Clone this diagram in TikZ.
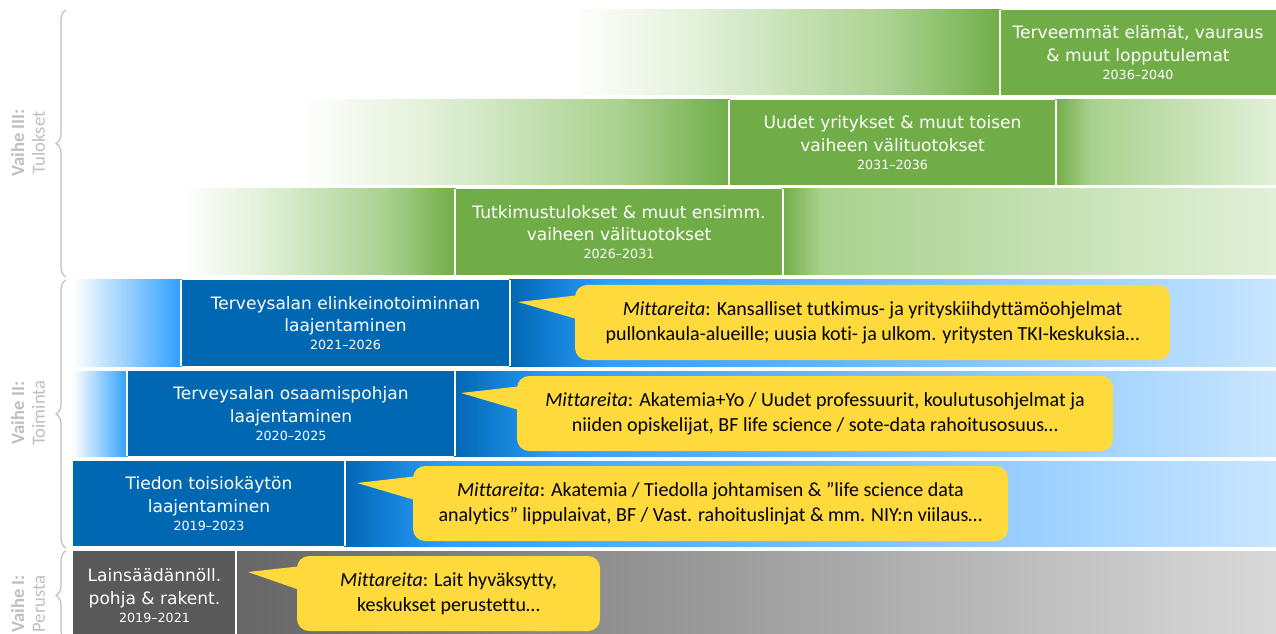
\documentclass[tikz,border=0pt]{standalone}
\usepackage{fontspec}
\setmainfont{DejaVu Sans}
\newfontfamily\calfont[Ligatures=NoCommon]{Carlito}
\usetikzlibrary{decorations.pathreplacing,calc}

\definecolor{gdark}{HTML}{70AD47}
\definecolor{gmid}{HTML}{A9D18E}
\definecolor{glight}{HTML}{E2F0D9}
\definecolor{bdark}{HTML}{0067B3}
\definecolor{bbright}{HTML}{2C9FFF}
\definecolor{blight}{HTML}{C9E5FF}
\definecolor{gydark}{HTML}{595959}
\definecolor{gystart}{HTML}{666666}
\definecolor{gyend}{HTML}{D9D9D9}
\definecolor{yel}{HTML}{FFDA3C}
\definecolor{lbl}{HTML}{BFBFBF}

\newcommand\yr[1]{{\fontsize{9.5}{11}\selectfont #1}}

\tikzset{
  boxtxt/.style={text=white, align=center, inner sep=0pt, font=\fontsize{12.8}{17}\selectfont},
  gbox/.style={boxtxt, fill=gdark},
  bbox/.style={boxtxt, fill=bdark},
  gybox/.style={boxtxt, fill=gydark},
  sep/.style={white, line width=1.5pt},
  callout/.style={fill=yel, rounded corners=9pt, align=center, inner sep=0pt,
    minimum height=56.25pt, font=\calfont\fontsize{15}{18.8}\selectfont},
  ptr/.style={fill=yel},
  brc/.style={draw=lbl, line width=0.9pt, decorate, decoration={brace, amplitude=7.5pt}},
  phase/.style={text=lbl, rotate=90, align=center, inner sep=0pt, font=\calfont\fontsize{14}{15.5}\selectfont},
}

\begin{document}
\begin{tikzpicture}[x=0.75pt,y=-0.75pt]
\useasboundingbox (0,0) rectangle (1276,634);
\fill[white] (0,0) rectangle (1276,634);
\begin{scope}
\clip (0,0) rectangle (1276,634);

% ---------- Row 1 (green)
\shade[left color=white,right color=glight] (570,10) rectangle (700,95);
\shade[left color=glight,right color=gmid] (699,10) rectangle (893,95);
\shade[left color=gmid,right color=gdark] (892,10) rectangle (1001,95);
\node[gbox, minimum width=207pt, minimum height=63.75pt] (b1) at (1138,52.5)
  {Terveemmät elämät, vauraus\\\& muut lopputulemat\\[-3.5pt]\yr{2036–2040}};

% ---------- Row 2 (green)
\shade[left color=white,right color=glight] (300,100) rectangle (430,185);
\shade[left color=glight,right color=gmid] (429,100) rectangle (623,185);
\shade[left color=gmid,right color=gdark] (622,100) rectangle (730,185);
\node[gbox, minimum width=245.25pt, minimum height=63.75pt] (b2) at (892.5,142.5)
  {Uudet yritykset \& muut toisen\\vaiheen välituotokset\\[-3.5pt]\yr{2031–2036}};
\shade[left color=gdark,right color=gmid] (1055,100) rectangle (1091,185);
\shade[left color=gmid,right color=glight] (1090,100) rectangle (1276,185);

% ---------- Row 3 (green)
\shade[left color=white,right color=glight] (180,189) rectangle (264,275);
\shade[left color=glight,right color=gmid] (263,189) rectangle (387,275);
\shade[left color=gmid,right color=gdark] (386,189) rectangle (456,275);
\node[gbox, minimum width=246pt, minimum height=64.5pt] (b3) at (619,232)
  {Tutkimustulokset \& muut ensimm.\\vaiheen välituotokset\\[-3.5pt]\yr{2026–2031}};
\shade[left color=gdark,right color=gmid] (782,189) rectangle (821,275);
\shade[left color=gmid,right color=glight] (820,189) rectangle (1276,275);

% ---------- Row 4 (blue)
\shade[left color=white,right color=bbright] (73,280) rectangle (182,366);
\node[bbox, minimum width=246.75pt, minimum height=64.5pt] (b4) at (345.5,323)
  {Terveysalan elinkeinotoiminnan\\laajentaminen\\[-3.5pt]\yr{2021–2026}};
\shade[left color=bdark,right color=bbright] (509,280) rectangle (611,366);
\shade[left color=bbright,right color=blight] (610,280) rectangle (1276,366);

% ---------- Row 5 (blue)
\shade[left color=white,right color=bbright] (73,371) rectangle (128,456);
\node[bbox, minimum width=246pt, minimum height=63.75pt] (b5) at (291,413.5)
  {Terveysalan osaamispohjan\\laajentaminen\\[-3.5pt]\yr{2020–2025}};
\shade[left color=bdark,right color=bbright] (454,371) rectangle (556,456);
\shade[left color=bbright,right color=blight] (555,371) rectangle (1276,456);

% ---------- Row 6 (blue)
\node[bbox, minimum width=204pt, minimum height=63.75pt] (b6) at (209,503.5)
  {Tiedon toisiokäytön\\laajentaminen\\[-3.5pt]\yr{2019–2023}};
\shade[left color=bdark,right color=bbright] (344,461) rectangle (446,546);
\shade[left color=bbright,right color=blight] (445,461) rectangle (1276,546);

% ---------- Row 7 (gray)
\node[gybox, minimum width=122.25pt, minimum height=66.75pt] (b7) at (154.5,595.5)
  {Lainsäädännöll.\\pohja \& rakent.\\[-3.5pt]\yr{2019–2021}};
\shade[left color=gystart,right color=gyend] (235,551) rectangle (1276,640);

% ---------- white separators
\draw[sep] (b1.north west) -- (b1.south west);
\draw[sep] (b2.north west) -- (b2.south west);
\draw[sep] (b2.north east) -- (b2.south east);
\draw[sep] (b3.north west) -- (b3.south west);
\draw[sep] (b3.north east) -- (b3.south east);
\draw[sep] (b4.north west) -- (b4.south west);
\draw[sep] (b4.north east) -- (b4.south east);
\draw[sep] (b5.north west) -- (b5.south west);
\draw[sep] (b5.north east) -- (b5.south east);
\draw[sep] (b6.north east) -- (b6.south east);
\draw[sep] (b7.north east) -- (b7.south east);

% ---------- callouts
\node[callout, minimum width=446.25pt] (c4) at (872.5,322.5)
  {\textit{Mittareita}: Kansalliset tutkimus- ja yrityskiihdyttämöohjelmat\\pullonkaula-alueille; uusia koti- ja ulkom. yritysten TKI-keskuksia…};
\node[callout, minimum width=447pt] (c5) at (815,413.5)
  {\textit{Mittareita}: Akatemia+Yo / Uudet professuurit, koulutusohjelmat ja\\niiden opiskelijat, BF life science / sote-data rahoitusosuus…};
\node[callout, minimum width=446.25pt] (c6) at (710.5,503.5)
  {\textit{Mittareita}: Akatemia / Tiedolla johtamisen \& ”life science data\\analytics” lippulaivat, BF / Vast. rahoituslinjat \& mm. NIY:n viilaus…};
\node[callout, minimum width=227.25pt] (c7) at (448.5,593.5)
  {\textit{Mittareita}: Lait hyväksytty,\\keskukset perustettu…};

\coordinate (t4) at (518,302);
\coordinate (t5) at (461,393);
\coordinate (t6) at (357,483);
\coordinate (t7) at (248,572);
\foreach \c/\t in {c4/t4,c5/t5,c6/t6,c7/t7}{
  \fill[ptr] (\t) -- ($(\c.north west)+(8,10)$) -- ($(\c.north west)+(8,36)$) -- cycle;
}

% ---------- phase braces and labels
\draw[brc] (66,277) -- (66,10);
\draw[brc] (66,548) -- (66,280);
\draw[brc] (66,640) -- (66,551);
\node[phase] (p3) at (28,143) {\textbf{Vaihe III:}\\Tulokset};
\node[phase] (p2) at (28,413) {\textbf{Vaihe II:}\\Toiminta};
\node[phase] (p1) at (28,604) {\textbf{Vaihe I:}\\Perusta};
\end{scope}
\end{tikzpicture}
\end{document}
